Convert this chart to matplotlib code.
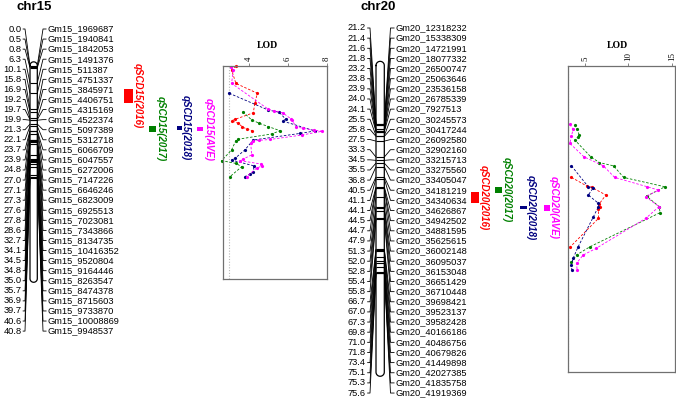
import numpy as np
import matplotlib
matplotlib.use("Agg")
import matplotlib.pyplot as plt
from matplotlib.collections import LineCollection
from matplotlib.patches import Rectangle

plt.rcParams['font.family'] = ['Liberation Sans', 'DejaVu Sans']

# ---------------- data ----------------
chr15_pos = [0.0, 0.5, 0.8, 6.3, 10.1, 15.8, 16.9, 19.2, 19.7, 19.9, 21.3, 22.1, 23.7, 23.9,
             24.8, 27.0, 27.1, 27.3, 27.6, 27.8, 28.6, 32.7, 34.1, 34.5, 34.8, 35.0, 35.7,
             36.9, 39.7, 40.6, 40.8]
chr15_markers = ["Gm15_1969687", "Gm15_1940841", "Gm15_1842053", "Gm15_1491376", "Gm15_511387",
                 "Gm15_4751337", "Gm15_3845971", "Gm15_4406751", "Gm15_4315169", "Gm15_4522374",
                 "Gm15_5097389", "Gm15_5312718", "Gm15_6066709", "Gm15_6047557", "Gm15_6272006",
                 "Gm15_7147226", "Gm15_6646246", "Gm15_6823009", "Gm15_6925513", "Gm15_7023081",
                 "Gm15_7343866", "Gm15_8134735", "Gm15_10416352", "Gm15_9520804", "Gm15_9164446",
                 "Gm15_8263547", "Gm15_8474378", "Gm15_8715603", "Gm15_9733870", "Gm15_10008869",
                 "Gm15_9948537"]
chr20_pos = [21.2, 21.4, 21.6, 21.8, 23.2, 23.8, 23.9, 24.0, 24.1, 25.5, 25.8, 27.5, 33.3, 34.5,
             35.5, 36.8, 40.5, 41.1, 44.1, 44.5, 44.7, 47.9, 51.3, 52.0, 52.8, 55.4, 55.8, 66.7,
             67.0, 67.3, 69.8, 71.0, 71.8, 73.4, 75.1, 75.3, 75.6]
chr20_markers = ["Gm20_12318232", "Gm20_15338309", "Gm20_14721991", "Gm20_18077332",
                 "Gm20_26500747", "Gm20_25063646", "Gm20_23536158", "Gm20_26785339",
                 "Gm20_7927513", "Gm20_30245573", "Gm20_30417244", "Gm20_26092580",
                 "Gm20_32902160", "Gm20_33215713", "Gm20_33275560", "Gm20_33405047",
                 "Gm20_34181219", "Gm20_34340634", "Gm20_34626867", "Gm20_34942502",
                 "Gm20_34881595", "Gm20_35625615", "Gm20_36002148", "Gm20_36095037",
                 "Gm20_36153048", "Gm20_36651429", "Gm20_36710448", "Gm20_39698421",
                 "Gm20_39523137", "Gm20_39582428", "Gm20_40166186", "Gm20_40486756",
                 "Gm20_40679826", "Gm20_41449898", "Gm20_42027385", "Gm20_41835758",
                 "Gm20_41919369"]
chr15_length = 77.5
chr20_length = 111.5

series_colors = ['#ff0000', '#008000', '#000080', '#ff00ff']

qtl15_names = ['qSCD15(2016)', 'qSCD15(2017)', 'qSCD15(2018)', 'qSCD15(AVE)']
qtl15_start = [8.5, 22.0, 22.0, 22.4]
qtl15_end = [13.6, 24.2, 23.5, 23.8]
qtl20_names = ['qSCD20(2016)', 'qSCD20(2017)', 'qSCD20(2018)', 'qSCD20(AVE)']
qtl20_start = [46.0, 44.2, 51.1, 50.7]
qtl20_end = [50.0, 46.4, 52.2, 52.9]

# LOD profiles, chr15
lod15_2016_cm = [0.2, 1.6, 6.5, 10.1, 13.5, 17.2, 19.6, 20.1, 21.0, 22.3, 23.1, 23.7]
lod15_2016 = [3.33, 3.11, 3.33, 4.43, 4.31, 4.22, 3.28, 3.11, 3.45, 3.66, 3.88, 4.17]
lod15_2017_cm = [16.8, 19.8, 21.0, 22.2, 23.7, 24.9, 26.8, 27.3, 30.7, 34.6, 35.6, 36.8, 40.4]
lod15_2017 = [3.68, 4.14, 4.53, 4.99, 5.59, 5.16, 3.45, 3.33, 3.11, 2.60, 3.33, 3.63, 3.03]
lod15_2018_cm = [10.1, 16.2, 17.0, 19.5, 20.2, 23.8, 24.7, 27.1, 30.7, 33.8, 34.4, 36.5, 38.6, 39.5, 40.4]
lod15_2018 = [2.99, 4.99, 5.55, 5.88, 5.73, 7.38, 6.62, 4.22, 3.79, 3.28, 3.11, 4.26, 4.22, 4.05, 3.79]
lod15_ave_cm = [0.7, 1.5, 6.5, 15.9, 16.5, 17.2, 19.4, 19.8, 22.2, 22.9, 23.5, 23.9, 25.3, 26.9,
                27.2, 27.5, 28.3, 32.5, 34.0, 34.6, 35.8, 36.6, 37.3, 40.4]
lod15_ave = [3.06, 3.20, 3.11, 4.99, 5.30, 5.73, 6.15, 6.20, 6.41, 6.79, 7.35, 7.76, 6.70, 5.08,
             4.53, 4.22, 4.09, 4.14, 3.71, 3.54, 4.60, 4.65, 4.39, 3.88]

# LOD profiles, chr20
lod20_2016_cm = [40.7, 43.8, 44.3, 47.1, 50.5, 51.3, 52.0, 55.6, 66.1]
lod20_2016 = [3.45, 5.20, 5.78, 7.40, 6.60, 6.74, 6.55, 6.55, 3.26]
lod20_2017_cm = [21.6, 23.2, 25.3, 25.9, 27.1, 33.2, 35.3, 36.5, 40.7, 44.1, 47.5, 51.3, 53.5,
                 65.9, 68.9, 71.5]
lod20_2017 = [3.84, 4.10, 4.34, 4.22, 3.84, 5.66, 6.66, 8.29, 9.45, 14.19, 12.09, 13.52, 13.64,
              5.58, 4.03, 3.45]
lod20_2018_cm = [36.5, 44.1, 44.4, 47.1, 50.1, 51.3, 55.0, 65.9, 70.1, 72.5, 74.4]
lod20_2018 = [3.45, 5.38, 5.97, 5.38, 6.55, 6.55, 5.97, 4.22, 3.64, 3.45, 3.49]
lod20_ave_cm = [21.4, 23.2, 25.6, 28.3, 33.2, 36.5, 40.7, 44.1, 45.3, 47.7, 51.3, 55.6, 66.5,
                68.9, 71.9, 74.4]
lod20_ave = [3.26, 3.64, 3.45, 3.26, 4.88, 7.13, 8.41, 12.17, 13.45, 11.98, 13.52, 11.98, 6.28,
             4.80, 4.03, 4.10]

lod_threshold15 = 3.0
lod_threshold20 = 3.1

# ---------------- layout ----------------
W, H = 676, 400
Y0 = 65.5      # pixel row of 0 cM
S = 2.75       # pixels per cM


def p2c(p):
    return (p - Y0) / S


fig = plt.figure(figsize=(W / 100, H / 100), dpi=100)
ax = fig.add_axes([0, 0, 1, 1])
ax.set_xlim(0, W)
ax.set_ylim(p2c(H), p2c(0))
ax.axis('off')

FS = 6.7


def draw_chrom(pos, names, L, xl, xr, num_right, stub_l, lab_x, stub_r, row0, drow, title, title_x):
    pos = np.asarray(pos)
    n = len(pos)
    rows = p2c(row0 + drow * np.arange(n))
    segs = []
    for c, r, nm in zip(pos, rows, names):
        ax.text(num_right, r, f"{c:.1f}", ha='right', va='center', fontsize=FS)
        ax.text(lab_x, r, nm, ha='left', va='center', fontsize=FS)
        segs.append([(num_right + 1.2, r), (stub_l, r), (xl, c)])
        segs.append([(xr, c), (stub_r, r), (lab_x - 1.5, r)])
    ax.add_collection(LineCollection(segs, colors='black', linewidths=0.6))
    ax.hlines(pos, xl, xr, colors='black', linewidth=0.8)
    # chromosome outline with rounded ends
    rx = (xr - xl) / 2.0
    ry = rx / S
    xc = (xl + xr) / 2.0
    tt = np.linspace(np.pi, 0, 30)
    top_x = xc + rx * np.cos(tt)
    top_y = 0 - ry * np.sin(tt)
    tb = np.linspace(0, np.pi, 30)
    bot_x = xc + rx * np.cos(tb)
    bot_y = L + ry * np.sin(tb)
    ox = np.concatenate([top_x, bot_x, [top_x[0]]])
    oy = np.concatenate([top_y, bot_y, [top_y[0]]])
    ax.plot(ox, oy, color='black', linewidth=0.9)
    ax.text(title_x, p2c(7), title, ha='center', va='center', fontsize=9.5, fontweight='bold')


draw_chrom(chr15_pos, chr15_markers, chr15_length, 30.0, 37.3, 21.5, 25.0, 48.0, 43.0,
           29.0, 10.07, 'chr15', 34)
draw_chrom(chr20_pos, chr20_markers, chr20_length, 376.0, 384.3, 366.0, 370.0, 396.0, 390.5,
           28.0, 10.14, 'chr20', 378)


def draw_qtls(names, starts, ends, box_x, box_w, text_x):
    for nm, s, e, bx_, bw, tx, col in zip(names, starts, ends, box_x, box_w, text_x, series_colors):
        ax.add_patch(Rectangle((bx_, s), bw, e - s, facecolor=col, edgecolor='none'))
        ax.text(tx, (s + e) / 2, nm, rotation=270, ha='center', va='center', color=col,
                fontsize=7, fontweight='bold', fontstyle='italic')


draw_qtls(qtl15_names, qtl15_start, qtl15_end, [124, 149, 177, 197], [9, 7, 4.5, 6],
          [137.5, 161, 186, 209])
draw_qtls(qtl20_names, qtl20_start, qtl20_end, [471, 495, 520, 544], [8, 7, 6.5, 6],
          [483.5, 507, 531, 554])


def lod_axes(x0, x1, L, xlim, ticks, series, thr, lod_label_x):
    a = fig.add_axes([x0 / W, 1 - (Y0 + L * S) / H, (x1 - x0) / W, L * S / H])
    a.set_xlim(*xlim)
    a.set_ylim(L, 0)
    a.set_facecolor('none')
    a.xaxis.tick_top()
    a.set_xticks(ticks)
    a.set_xticklabels([str(t) for t in ticks], rotation=90, fontsize=6.3, family='Liberation Serif')
    a.tick_params(axis='x', length=2.5, width=0.6, color='#707070', pad=0.8)
    a.set_yticks([])
    for sp in a.spines.values():
        sp.set_color('#707070')
        sp.set_linewidth(0.9)
    a.axvline(thr, color='#b8b8b8', linestyle=(0, (1, 1.5)), linewidth=0.8)
    for (cm, lod), col in zip(series, series_colors):
        a.plot(lod, cm, linestyle=(0, (3, 2)), linewidth=0.6, color=col, marker='o',
               markersize=2.3, markeredgewidth=0, clip_on=False)
    ax.text(lod_label_x, p2c(46), 'LOD', ha='center', va='center', fontsize=7,
            fontweight='bold', family='Liberation Serif')
    return a


lod_axes(223, 327, chr15_length, (2.67, 8.0), [4, 6, 8],
         [(lod15_2016_cm, lod15_2016), (lod15_2017_cm, lod15_2017),
          (lod15_2018_cm, lod15_2018), (lod15_ave_cm, lod15_ave)], lod_threshold15, 267)
lod_axes(568, 675, chr20_length, (3.05, 15.35), [5, 10, 15],
         [(lod20_2016_cm, lod20_2016), (lod20_2017_cm, lod20_2017),
          (lod20_2018_cm, lod20_2018), (lod20_ave_cm, lod20_ave)], lod_threshold20, 617)

fig.savefig('out.png', dpi=100)
